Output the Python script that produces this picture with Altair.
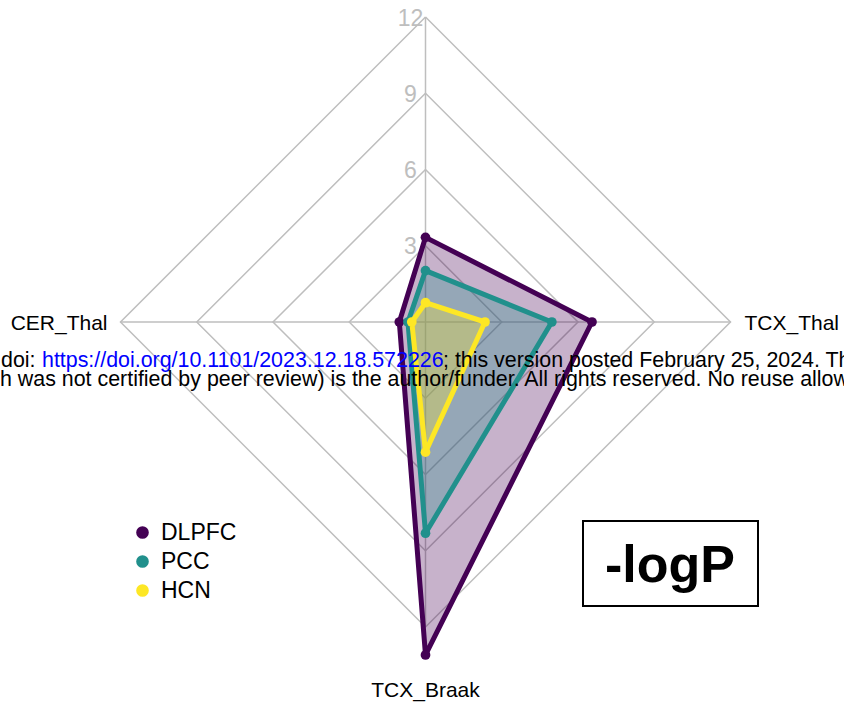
import altair as alt
import numpy as np
import pandas as pd

# ---- data ----
axis_names = ["", "TCX_Thal", "TCX_Braak", "CER_Thal"]   # clockwise from top
axis_angles = [0, 90, 180, 270]
series = ["DLPFC", "PCC", "HCN"]
colors = ["#440154", "#21908C", "#FDE725"]
dlpfc = [3.33, 6.55, 13.1, 1.03]
pcc = [2.02, 4.97, 8.31, 0.69]
hcn = [0.76, 2.34, 5.12, 0.54]
values = {"DLPFC": dlpfc, "PCC": pcc, "HCN": hcn}
grid_levels = [3, 6, 9, 12]
tick_labels = ["3", "6", "9", "12"]

wm_line1 = ["bioRxiv preprint", "doi: ", "https://doi.org/10.1101/2023.12.18.572226",
            "; this version posted February 25, 2024. The copyright holder for this preprint"]
wm_line2 = ["(whic", "h was not certified by peer review) is the author/funder. All rights reserved. No reuse allowed without permission."]

# ---- geometry ----
W, H = 844, 702
cx, cy = 425.5, 322.0
s = 305.0 / 12.0
xdom = [-cx / s, (W - cx) / s]
ydom = [-(H - cy) / s, cy / s]
rad = np.deg2rad(axis_angles)


def polar(r, a):
    return r * np.sin(a), r * np.cos(a)


rows = []
for name in series:
    v = values[name]
    for k in range(5):
        i = k % 4
        x, y = polar(v[i], rad[i])
        rows.append({"series": name, "k": k, "x": x, "y": y, "pt": k < 4})
poly = pd.DataFrame(rows)

grows = []
for lv in grid_levels:
    for k in range(5):
        i = k % 4
        x, y = polar(lv, rad[i])
        grows.append({"level": lv, "k": k, "x": x, "y": y})
grid = pd.DataFrame(grows)

srows = []
for i, nm in enumerate(axis_names):
    for k, r in enumerate([0, max(grid_levels)]):
        x, y = polar(r, rad[i])
        srows.append({"axis": i, "k": k, "x": x, "y": y})
spokes = pd.DataFrame(srows)

ticks = pd.DataFrame({"lab": tick_labels, "x": [0.0] * 4, "y": grid_levels})

lab_rows = []
for i, nm in enumerate(axis_names):
    x, y = polar(max(grid_levels), rad[i])
    lab_rows.append({"name": nm, "x": x, "y": y})
labels = pd.DataFrame(lab_rows)

X = alt.X("x:Q", scale=alt.Scale(domain=xdom, nice=False, zero=False), axis=None)
Y = alt.Y("y:Q", scale=alt.Scale(domain=ydom, nice=False, zero=False), axis=None)
FONT = "Liberation Sans"
GRAY = "#bebebe"

grid_l = alt.Chart(grid).mark_line(color=GRAY, strokeWidth=1.5).encode(
    x=X, y=Y, detail="level:N", order="k:Q")
spoke_l = alt.Chart(spokes).mark_line(color=GRAY, strokeWidth=1.5).encode(
    x=X, y=Y, detail="axis:N", order="k:Q")
tick_l = alt.Chart(ticks).mark_text(
    font=FONT, fontSize=23, color=GRAY, align="center", baseline="alphabetic", dx=-15, dy=8.5
).encode(x=X, y=Y, text="lab:N")

poly_layers = []
for name, c in zip(series, colors):
    poly_layers.append(
        alt.Chart(poly).transform_filter(alt.datum.series == name).mark_line(
            color=c, fill=c, fillOpacity=0.3, strokeWidth=5, strokeJoin="round"
        ).encode(x=X, y=Y, order="k:Q")
    )

pts = alt.Chart(poly).transform_filter(alt.datum.pt).mark_circle(size=95, opacity=1).encode(
    x=X, y=Y,
    color=alt.Color("series:N", sort=series,
                    scale=alt.Scale(domain=series, range=colors),
                    legend=alt.Legend(title=None, orient="none", legendX=131, legendY=521,
                                      symbolType="circle", symbolSize=160, labelFontSize=23,
                                      labelFont=FONT, labelColor="black", rowPadding=5,
                                      labelOffset=7, padding=0, symbolStrokeWidth=0,
                                      symbolOpacity=1)),
    order=alt.Order("k:Q"),
)

lab_right = alt.Chart(labels).transform_filter(alt.datum.name == "TCX_Thal").mark_text(
    font=FONT, fontSize=21, color="black", align="left", baseline="alphabetic", dx=14, dy=7.5
).encode(x=X, y=Y, text="name:N")
lab_left = alt.Chart(labels).transform_filter(alt.datum.name == "CER_Thal").mark_text(
    font=FONT, fontSize=21, color="black", align="right", baseline="alphabetic", dx=-13, dy=7.5
).encode(x=X, y=Y, text="name:N")
lab_bot = alt.Chart(labels).transform_filter(alt.datum.name == "TCX_Braak").mark_text(
    font=FONT, fontSize=21, color="black", align="center", baseline="alphabetic", dy=70
).encode(x=X, y=Y, text="name:N")

# watermark pieces (pixel positions)
wm = pd.DataFrame({
    "t": wm_line1 + wm_line2,
    "px": [-6.0, 1.0, 42.0, 443.0, 0.0, 0.0],
    "py": [366.5, 366.5, 366.5, 366.5, 385.5, 385.5],
    "col": ["black", "black", "blue", "black", "black", "black"],
    "al": ["r", "l", "l", "l", "r", "l"],
})
wm_l = alt.Chart(wm).transform_filter(alt.datum.al == "l").mark_text(
    font=FONT, fontSize=21.4, align="left", baseline="alphabetic"
).encode(x=alt.X("px:Q", scale=None), y=alt.Y("py:Q", scale=None), text="t:N",
         fill=alt.Fill("col:N", scale=None))
wm_r = alt.Chart(wm).transform_filter(alt.datum.al == "r").mark_text(
    font=FONT, fontSize=21.4, align="right", baseline="alphabetic"
).encode(x=alt.X("px:Q", scale=None), y=alt.Y("py:Q", scale=None), text="t:N",
         fill=alt.Fill("col:N", scale=None))

box_df = pd.DataFrame({"t": ["-logP"]})
box = alt.Chart(box_df).mark_rect(fill="white", stroke="black", strokeWidth=2).encode(
    x=alt.value(583), x2=alt.value(758), y=alt.value(521), y2=alt.value(606))
box_t = alt.Chart(box_df).mark_text(
    font=FONT, fontSize=52, fontWeight="bold", color="black", align="center", baseline="alphabetic"
).encode(x=alt.value(670), y=alt.value(582), text="t:N")

chart = alt.layer(
    grid_l, spoke_l, tick_l, *poly_layers, pts, lab_right, lab_left, lab_bot, box, box_t, wm_l, wm_r
).properties(
    width=W, height=H, padding=0, autosize=alt.AutoSizeParams(type="none")
).configure_view(stroke=None).resolve_scale(fill="independent")

chart.save("out.html", embed_options={"renderer": "svg", "actions": False})
